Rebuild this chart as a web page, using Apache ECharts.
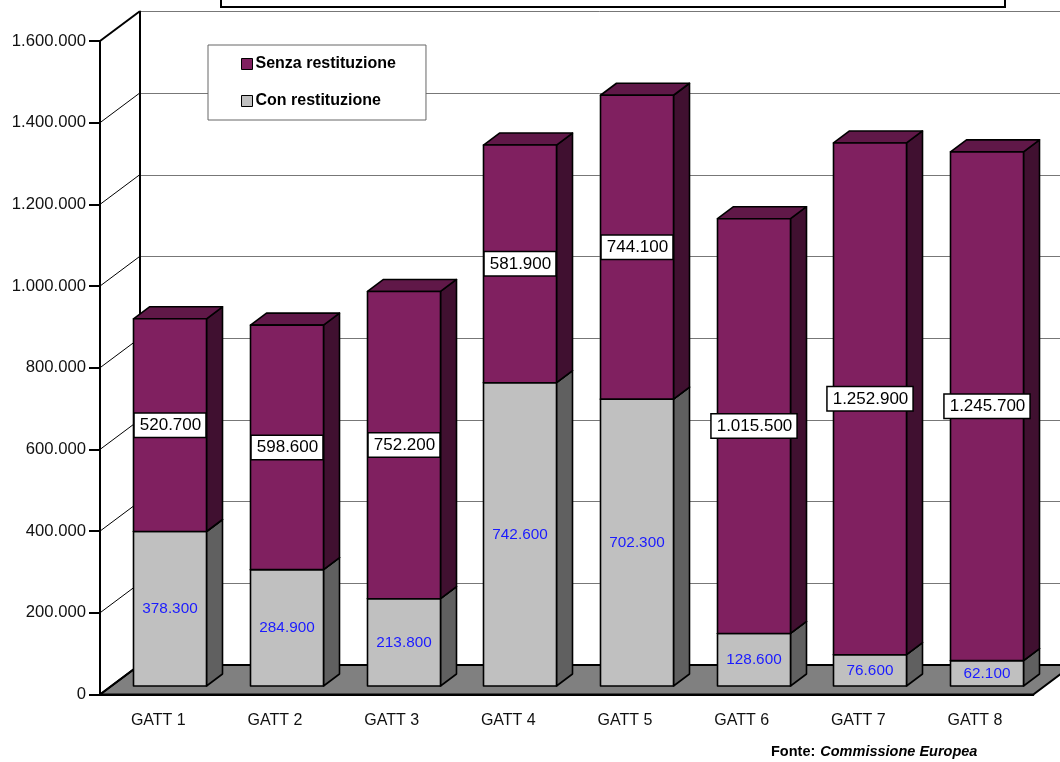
<!DOCTYPE html>
<html><head><meta charset="utf-8">
<style>html,body{margin:0;padding:0;background:#fff}#c{width:1060px;height:762px}</style>
<script src="https://cdn.jsdelivr.net/npm/echarts@6/dist/echarts.min.js"></script>
</head><body><div id="c"></div>
<script>
const categories = ['GATT 1','GATT 2','GATT 3','GATT 4','GATT 5','GATT 6','GATT 7','GATT 8'];
const conRestituzione = [378300,284900,213800,742600,702300,128600,76600,62100];
const senzaRestituzione = [520700,598600,752200,581900,744100,1015500,1252900,1245700];
const yTicks = [0,200000,400000,600000,800000,1000000,1200000,1400000,1600000];

// Oblique projection of the pseudo-3D scene (pixels)
const WALL_DX = 39.5, WALL_DY = -29.5, DEPTH_DX = 16, DEPTH_DY = -12, BASE_UP = 8.5, BAR_SHIFT = 11.7, BAR_RATIO = 0.627;
const fmt = v => String(v).replace(/\B(?=(\d{3})+$)/g, '.');
const FONT = '"Liberation Sans", Arial, sans-serif';

function barItem(colors, labelStyle){
  return function(params, api){
    const i = api.value(0), base = api.value(1), val = api.value(2);
    const band = api.size([1,0])[0], w = band*BAR_RATIO;
    const c = api.coord([i, base]), t = api.coord([i, base+val]);
    const x0 = Math.round(c[0]+BAR_SHIFT-w/2)+.5, x1 = x0+Math.round(w);
    const y0 = c[1]-BASE_UP, y1 = t[1]-BASE_UP;
    const line = {stroke:'#000', lineWidth:1.6, lineJoin:'round'};
    const poly = (pts, fill) => ({type:'polygon', shape:{points:pts}, style:Object.assign({fill}, line)});
    const children = [
      poly([[x1,y0],[x1+DEPTH_DX,y0+DEPTH_DY],[x1+DEPTH_DX,y1+DEPTH_DY],[x1,y1]], colors.side),
      poly([[x0,y1],[x0+DEPTH_DX,y1+DEPTH_DY],[x1+DEPTH_DX,y1+DEPTH_DY],[x1,y1]], colors.top),
      poly([[x0,y0],[x1,y0],[x1,y1],[x0,y1]], colors.front),
      {type:'text', z2:10, style:Object.assign({text:fmt(val), x:(x0+x1)/2, y:(y0+y1)/2, align:'center', verticalAlign:'middle'}, labelStyle)}
    ];
    return {type:'group', children};
  };
}

const option = {
  animation:false,
  backgroundColor:'#fff',
  textStyle:{fontFamily:FONT},
  title:{left:771, top:743, padding:0, text:'{b|Fonte:} {i|Commissione Europea}',
    textStyle:{rich:{b:{fontFamily:FONT,fontWeight:'bold',fontSize:14.5,color:'#000'},i:{fontFamily:FONT,fontStyle:'italic',fontSize:14.5,color:'#000'}}}},
  legend:{left:208, top:45, orient:'vertical', selectedMode:false, itemWidth:11, itemHeight:11, itemGap:21,
    padding:[11,30,11,33], backgroundColor:'#fff', borderColor:'#666', borderWidth:1,
    textStyle:{fontFamily:FONT,fontWeight:'bold',fontSize:16,color:'#000',padding:[0,0,0,-2]},
    data:[{name:'Senza restituzione',icon:'rect',itemStyle:{color:'#802060',borderColor:'#000',borderWidth:1}},
          {name:'Con restituzione',icon:'rect',itemStyle:{color:'#C0C0C0',borderColor:'#000',borderWidth:1}}]},
  grid:[{left:100, top:41, width:933.3, height:653.5},
        {left:100+WALL_DX, top:41+WALL_DY, width:933.3, height:653.5}],
  xAxis:[
    {type:'category', gridIndex:0, data:categories,
     axisLine:{lineStyle:{color:'#000',width:2}}, axisTick:{length:11,lineStyle:{color:'#000',width:2}},
     axisLabel:{margin:18,fontSize:16,color:'#111',fontFamily:FONT}},
    {type:'category', gridIndex:1, data:categories, position:'top',
     axisLine:{lineStyle:{color:'#000',width:2}}, axisTick:{show:false}, axisLabel:{show:false}}
  ],
  yAxis:[
    {type:'value', gridIndex:0, min:0, max:1600000, interval:200000,
     axisLine:{show:true,lineStyle:{color:'#000',width:2}}, axisTick:{show:true,length:11,lineStyle:{color:'#000',width:2}},
     splitLine:{show:false},
     axisLabel:{margin:14,fontSize:16.7,color:'#111',fontFamily:FONT,formatter:fmt}},
    {type:'value', gridIndex:1, min:0, max:1600000, interval:200000,
     axisLine:{show:true,lineStyle:{color:'#000',width:2}}, axisTick:{show:false}, axisLabel:{show:false},
     splitLine:{lineStyle:{color:'#777',width:1}}}
  ],
  graphic:[{type:'rect', silent:true, shape:{x:221,y:-6,width:784,height:13}, style:{fill:'#fff',stroke:'#000',lineWidth:2}}],
  series:[
    {type:'custom', name:'floor', xAxisIndex:0, yAxisIndex:0, z:1, silent:true, data:[[0]],
     renderItem(params, api){
       const band = api.size([1,0])[0];
       const a = api.coord([0,0]); const xl = a[0]-band/2, y = a[1];
       const xr = xl+band*categories.length;
       return {type:'polygon', shape:{points:[[xl,y],[xl+WALL_DX,y+WALL_DY],[xr+WALL_DX,y+WALL_DY],[xr,y]]},
         style:{fill:'#808080',stroke:'#000',lineWidth:2}};
     }},
    {type:'custom', name:'wall', xAxisIndex:0, yAxisIndex:0, z:1, silent:true, data:yTicks.map(v=>[0,v]),
     renderItem(params, api){
       const band = api.size([1,0])[0], v = api.value(1);
       const a = api.coord([0,v]); const x = a[0]-band/2;
       const edge = v===0 || v===1600000;
       return {type:'line', shape:{x1:x,y1:a[1],x2:x+WALL_DX,y2:a[1]+WALL_DY}, style:{stroke:'#000',lineWidth:edge?2:1}};
     }},
    {type:'custom', name:'Con restituzione', xAxisIndex:0, yAxisIndex:0, z:3, silent:true,
     data:conRestituzione.map((v,i)=>[i,0,v]),
     encode:{x:0,y:[1,2]},
     renderItem:barItem({front:'#C0C0C0',side:'#606060',top:'#909090'},
       {fill:'#1a1aff',font:'15.3px '+FONT})},
    {type:'custom', name:'Senza restituzione', xAxisIndex:0, yAxisIndex:0, z:3, silent:true,
     data:senzaRestituzione.map((v,i)=>[i,conRestituzione[i],v]),
     encode:{x:0,y:[1,2]},
     renderItem:barItem({front:'#802060',side:'#401030',top:'#601848'},
       {fill:'#000',font:'17px '+FONT,backgroundColor:'#fff',borderColor:'#000',borderWidth:1.5,padding:[3,4,3,5]})}
  ]
};
echarts.init(document.getElementById('c'),null,{renderer:'canvas'}).setOption(option);
</script></body></html>
